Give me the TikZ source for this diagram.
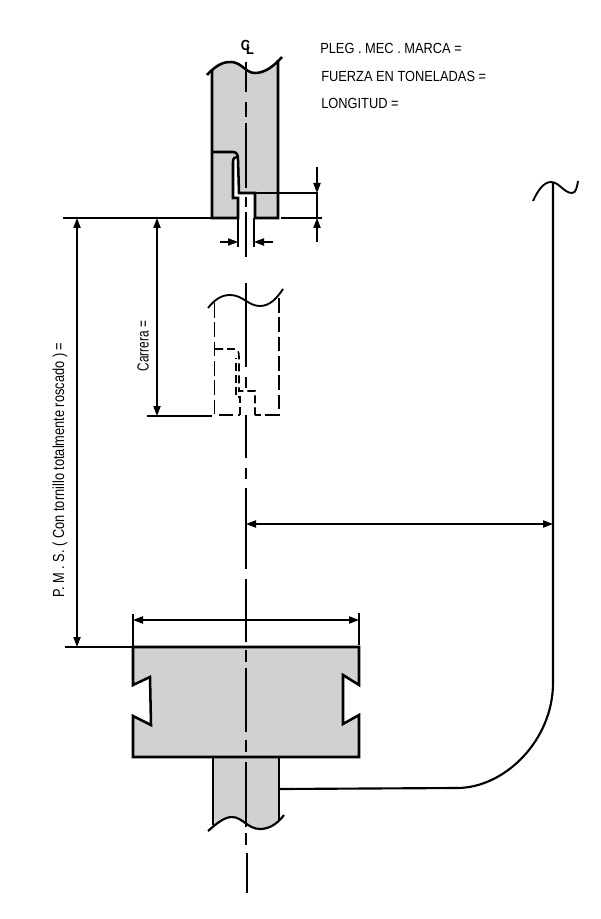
\documentclass[tikz,border=0pt]{standalone}
\usepackage{fontspec}
\usetikzlibrary{arrows.meta}
\newfontfamily\labA[FakeStretch=0.875]{Liberation Sans}
\newfontfamily\labB[FakeStretch=0.80]{Liberation Sans}
\newfontfamily\labC[FakeStretch=0.74]{Liberation Sans}
\definecolor{steel}{HTML}{D1D1D1}
\tikzset{
  outline/.style={line width=1.9pt,line join=miter},
  thinl/.style={line width=0.8pt},
  dim/.style={line width=0.8pt,{Triangle[length=7.5pt,width=5.5pt]}-{Triangle[length=7.5pt,width=5.5pt]}},
  dimend/.style={line width=0.8pt,-{Triangle[length=7.5pt,width=5.5pt]}},
  ghost/.style={line width=1.2pt,dash pattern=on 11pt off 3.5pt},
  ghostb/.style={line width=1.2pt,dash pattern=on 6pt off 3pt},
  txt/.style={font=\labA\fontsize{11pt}{12pt}\selectfont,inner sep=0pt,anchor=west,text=black},
  cl/.style={font=\labA\bfseries\fontsize{11pt}{12pt}\selectfont,inner sep=0pt}
}
\begin{document}
\begin{tikzpicture}[x=0.75pt,y=-0.75pt]
\useasboundingbox (0,0) rectangle (600,919);
% upper punch
\fill[steel] (212,70) .. controls (219,62) and (226,62) .. (232,62) .. controls (242,63) and (246,73) .. (255,73) .. controls (265,73) and (272,67) .. (278,60)
  -- (278,218) -- (255,218) -- (255,193) -- (238,193) -- (238,218) -- (212,218) -- cycle;
\fill[white] (233,162) .. controls (233,158) and (235,157) .. (237,157) -- (238,160) -- (239,196) -- (238,200) -- (233,200) -- cycle;
\draw[outline] (207,75) .. controls (219,62) and (226,62) .. (232,62) .. controls (242,63) and (246,73) .. (255,73) .. controls (265,73) and (274,66) .. (282,57);
\draw[outline] (212,70) -- (212,218) -- (238,218) -- (238,198) -- (233,198) -- (233,162) .. controls (233,158) and (235,157) .. (237,157);
\draw[outline] (212,152) -- (233,152) .. controls (237,152) and (238,155) .. (238,160) -- (239,193) -- (255,193) -- (255,218) -- (278,218) -- (278,60);
% centre line
\foreach \a/\b in {62/92,102/117,123/188,197/207,212/257,283/367,377/388,415/458,468/479,488/569,579/642,650/662,668/732,740/752,762/827,833/845}
  \draw[thinl] (246,\a) -- (246,\b);
\draw[thinl] (247,853) -- (247,893);
\node[cl] (cl) at (247.5,47.5) {C\kern-3pt\raisebox{-3.5pt}{L}};
% upper dimensions
\coordinate (topL) at (63,218);
\coordinate (topR) at (212,218);
\draw[thinl] (topL) -- (topR);
\draw[thinl] (255,193) -- (318,193);
\draw[thinl] (281,218) -- (322,218);
\draw[dimend] (317,167) -- (317,193);
\draw[dimend] (317,242) -- (317,218);
\draw[thinl] (317,193) -- (317,218);
\draw[thinl] (238,218) -- (238,247);
\draw[thinl] (254,218) -- (254,247);
\draw[dimend] (220,242) -- (238,242);
\draw[dimend] (273,242) -- (254,242);
% ghost punch
\draw[line width=1.4pt] (208,308) .. controls (215,299) and (222,295) .. (230,295) .. controls (243,295) and (248,306) .. (260,306) .. controls (270,306) and (277,298) .. (283,289);
\draw[ghost] (214.5,303) -- (214.5,415) -- (240,415);
\draw[ghost] (279,298) -- (279,415) -- (255,415);
\draw[ghostb] (240,415) -- (240,397) -- (236,397) -- (236,358);
\draw[ghostb] (215,349) -- (234,349) .. controls (238,349) and (239,352) .. (239,357) -- (239,391) -- (255,391) -- (255,415);
\draw[line width=1.3pt] (147,416) -- (212,416);
% long dimensions
\draw[dim] (157,218) -- (157,416);
\draw[dim] (77,218) -- (77,647);
\node[txt,font=\labC\fontsize{12pt}{12pt}\selectfont,rotate=90,anchor=center] (carrera) at (143,346) {Carrera =};
\node[txt,font=\labB\fontsize{12pt}{12pt}\selectfont,rotate=90,anchor=center] (pms) at (60,470) {P. M . S. ( Con tornillo totalmente roscado ) =};
% heading
\node[txt] (t1) at (320,48) {PLEG . MEC . MARCA =};
\node[txt] (t2) at (321,76) {FUERZA EN TONELADAS =};
\node[txt] (t3) at (321,103) {LONGITUD =};
% shaft
\fill[steel] (213,757) -- (279,757) -- (279,821) .. controls (274,825) and (268,829) .. (260,829) .. controls (248,829) and (242,817) .. (232,817) .. controls (225,817) and (219,821) .. (213,825) -- cycle;
\draw[outline] (213,757) -- (213,825);
\draw[outline] (279,757) -- (279,821);
\draw[line width=1.6pt] (208,831) .. controls (216,824) and (224,817) .. (232,817) .. controls (242,817) and (248,829) .. (260,829) .. controls (270,829) and (278,823) .. (284,815);
\draw[thinl] (246,762) -- (246,827);
% die
\draw[outline,fill=steel] (133,647) -- (359,647) -- (359,685) -- (343,675) -- (343,724) -- (359,715) -- (359,757) -- (133,757) -- (133,716) -- (151,725) -- (150,677) -- (133,685) -- cycle;
\foreach \a/\b in {650/662,668/732,740/752}
  \draw[thinl] (246,\a) -- (246,\b);
% die width and datum
\draw[thinl] (65,647) -- (133,647);
\draw[thinl] (133,614) -- (133,647);
\draw[thinl] (359,613) -- (359,645);
\draw[dim] (133,620) -- (359,620);
% hose
\draw[line width=1.6pt] (553,183) -- (553,640) -- (553,683) .. controls (553,740) and (505,788) .. (457,788) -- (280,789);
\draw[line width=1.4pt] (533,201) .. controls (538,190) and (544,182) .. (551,182) .. controls (559,182) and (564,193) .. (572,193) .. controls (576,193) and (577,187) .. (578,181);
\draw[dim] (246,524) -- (553,524);
\end{tikzpicture}
\end{document}
